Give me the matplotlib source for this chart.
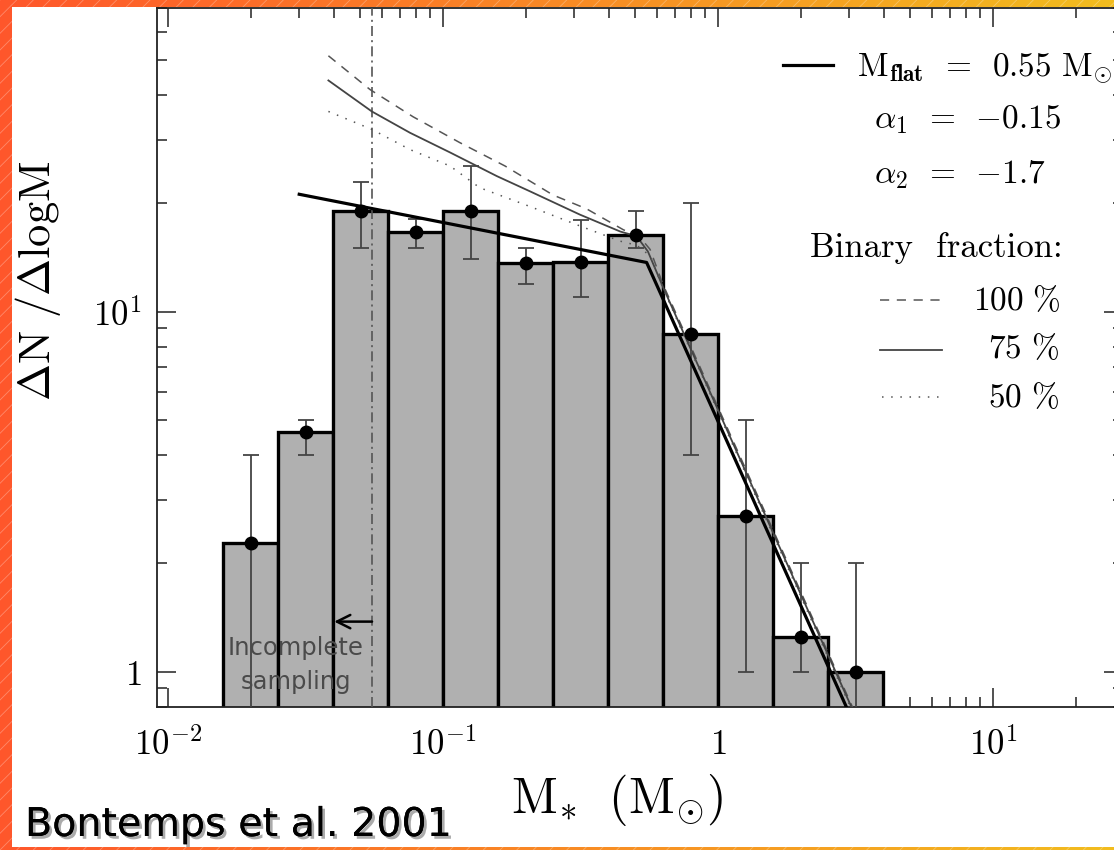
import numpy as np
import matplotlib
matplotlib.use("Agg")
import matplotlib.pyplot as plt
from matplotlib.lines import Line2D
from matplotlib.patches import Rectangle
from matplotlib.ticker import FixedLocator, FixedFormatter, LogLocator, NullFormatter
import matplotlib.patheffects as pe

plt.rcParams["mathtext.fontset"] = "cm"
plt.rcParams["hatch.linewidth"] = 0.6

# ---- histogram of the mass function (log10 bin edges, 0.2 dex bins) ----
log_bin_edges = [-1.8, -1.6, -1.4, -1.2, -1.0, -0.8, -0.6, -0.4, -0.2, 0.0, 0.2, 0.4, 0.6]
counts = [2.27, 4.64, 19.1, 16.6, 19.1, 13.65, 13.7, 16.3, 8.65, 2.70, 1.25, 1.0]
err_low = [0.5, 4.0, 15.0, 15.0, 14.0, 11.9, 11.0, 15.0, 4.0, 1.0, 1.0, 0.5]
err_high = [4.0, 5.0, 22.9, 18.1, 25.4, 15.0, 18.0, 19.0, 20.0, 5.0, 2.0, 2.0]

# ---- two-segment power-law fit ----
M_FLAT = 0.55
ALPHA_1 = -0.15
ALPHA_2 = -1.7
N_FLAT = 13.7
fit_mass = [0.03, 0.55, 3.3]

# ---- model mass functions for several binary fractions ----
bf100_mass = [0.0383, 0.0543, 0.0778, 0.115, 0.168, 0.251, 0.333, 0.452, 0.520, 0.566, 0.631, 1.41, 3.3]
bf100_vals = [51.4, 41.4, 34.8, 29.5, 25.4, 21.1, 19.3, 16.9, 16.1, 14.9, 11.9, 3.02, 0.71]
bf75_mass = [0.0383, 0.0551, 0.0759, 0.106, 0.157, 0.207, 0.315, 0.441, 0.506, 0.556, 0.631, 1.41, 3.3]
bf75_vals = [43.9, 36.0, 31.4, 27.7, 23.8, 21.6, 18.6, 16.7, 16.2, 14.7, 11.7, 2.97, 0.70]
bf50_mass = [0.0383, 0.0551, 0.0759, 0.106, 0.136, 0.207, 0.315, 0.441, 0.506, 0.566, 0.631, 1.41, 3.3]
bf50_vals = [36.0, 32.1, 28.2, 25.4, 22.1, 19.6, 17.3, 15.7, 15.3, 14.3, 11.6, 2.93, 0.69]

completeness_mass = 0.0552

x_tick_values = [0.01, 0.1, 1, 10]
x_tick_labels = [r"$10^{-2}$", r"$10^{-1}$", r"$1$", r"$10^{1}$"]
y_tick_values = [1, 10]
y_tick_labels = [r"$1$", r"$10^{1}$"]

W, H = 1114, 850


def fx(x):
    return x / W


def fy(y):
    return 1 - y / H


fig = plt.figure(figsize=(W / 100, H / 100), dpi=100)

# ---- slide-style frame: orange gradient with a white panel ----
bg = fig.add_axes([0, 0, 1, 1], zorder=-10)
grad = np.linspace(0, 1, 256)
c0 = np.array([1.0, 0.34, 0.17])
c1 = np.array([0.95, 0.74, 0.12])
img = c0[None, :] + (c1 - c0)[None, :] * grad[:, None]
bg.imshow(img[None, :, :], extent=[0, 1, 0, 1], aspect="auto")
bg.add_patch(Rectangle((0, 0), 1, 1, fill=False, hatch="//",
                       edgecolor=(1, 1, 1, 0.3), lw=0))
bg.add_patch(Rectangle((fx(12), fy(847)), 1.0, fy(7) - fy(847),
                       facecolor="white", edgecolor="none"))
bg.set_xlim(0, 1)
bg.set_ylim(0, 1)
bg.axis("off")

# ---- main axes ----
ax = fig.add_axes([fx(156.5), fy(706.5), fx(1123) - fx(156.5), fy(7.5) - fy(706.5)])
ax.set_facecolor("white")
ax.set_xscale("log")
ax.set_yscale("log")

edges = 10 ** np.array(log_bin_edges)
widths = np.diff(edges)
centers = np.sqrt(edges[:-1] * edges[1:])
counts_a = np.array(counts)
base = 0.5

ax.bar(edges[:-1], counts_a - base, width=widths, bottom=base, align="edge",
       color="#b0b0b0", edgecolor="black", linewidth=2.4, zorder=2)

ax.axvline(completeness_mass, color="#555555", lw=1.2,
           linestyle=(0, (6, 2.5, 1.2, 2.5)), zorder=3)

yerr = [counts_a - np.array(err_low), np.array(err_high) - counts_a]
ax.errorbar(centers, counts_a, yerr=yerr, fmt="none", ecolor="#444444",
            elinewidth=1.3, capsize=5.5, capthick=1.3, zorder=3)

ax.plot(bf100_mass, bf100_vals, color="#555555", lw=1.1,
        linestyle=(0, (6, 5)), zorder=4)
ax.plot(bf75_mass, bf75_vals, color="#444444", lw=1.3, zorder=4)
ax.plot(bf50_mass, bf50_vals, color="#555555", lw=1.1,
        linestyle=(0, (1, 5)), zorder=4)

fit_vals = [N_FLAT * (m / M_FLAT) ** (ALPHA_1 if m <= M_FLAT else ALPHA_2)
            for m in fit_mass]
ax.plot(fit_mass, fit_vals, color="black", lw=2.3, zorder=5)

ax.plot(centers, counts_a, "o", color="black", ms=9, zorder=6)

ax.text(0.0292, 1.16, "Incomplete", ha="center", va="center", fontsize=17.5,
        color="#4a4a4a", family="DejaVu Sans", zorder=7)
ax.text(0.0292, 0.935, "sampling", ha="center", va="center", fontsize=17.5,
        color="#4a4a4a", family="DejaVu Sans", zorder=7)
ax.annotate("", xy=(0.0402, 1.377), xytext=(completeness_mass, 1.377),
            arrowprops=dict(arrowstyle="->", lw=1.8, color="black",
                            mutation_scale=24, shrinkA=0, shrinkB=0),
            zorder=7)

ax.set_xlim(0.00908, 29.7)
ax.set_ylim(0.80, 70)

ax.xaxis.set_major_locator(FixedLocator(x_tick_values))
ax.xaxis.set_major_formatter(FixedFormatter(x_tick_labels))
ax.yaxis.set_major_locator(FixedLocator(y_tick_values))
ax.yaxis.set_major_formatter(FixedFormatter(y_tick_labels))
minor_subs = (2, 3, 4, 5, 6, 7, 8, 9)
ax.xaxis.set_minor_locator(LogLocator(base=10, subs=minor_subs))
ax.yaxis.set_minor_locator(LogLocator(base=10, subs=minor_subs))
ax.xaxis.set_minor_formatter(NullFormatter())
ax.yaxis.set_minor_formatter(NullFormatter())

ax.tick_params(which="both", direction="in", top=True, right=True,
               color="#222222", width=1.1, labelsize=25, labelcolor="black")
ax.tick_params(which="major", length=14)
ax.tick_params(which="minor", length=7.5)
ax.tick_params(axis="x", which="major", pad=15)
ax.tick_params(axis="y", which="major", pad=11)
for sp in ax.spines.values():
    sp.set_linewidth(1.3)
    sp.set_color("#222222")

# ---- axis titles ----
fig.text(fx(38), fy(281), r"$\Delta\mathrm{N}\ /\Delta\mathrm{logM}$",
         rotation=90, ha="center", va="center", fontsize=32)
fig.text(fx(617), fy(813), r"$\mathrm{M}_{\ast}\ \ (\mathrm{M}_{\odot})$",
         ha="center", va="baseline", fontsize=36)

# ---- key ----
LEG_FS = 24
fig.add_artist(Line2D([fx(783), fx(833)], [fy(65), fy(65)], color="black", lw=2.3))
fig.text(fx(857), fy(76), r"$\mathrm{M}_{\mathbf{flat}}\ \,=\ \,0.55\ \mathrm{M}_{\odot}$",
         ha="left", va="baseline", fontsize=LEG_FS)
fig.text(fx(874), fy(128), r"$\alpha_1\ \,=\ \,{-}0.15$", ha="left", va="baseline",
         fontsize=LEG_FS)
fig.text(fx(874), fy(183), r"$\alpha_2\ \,=\ \,{-}1.7$", ha="left", va="baseline",
         fontsize=LEG_FS)
fig.text(fx(810), fy(257), "Binary  fraction:", ha="left",
         va="baseline", fontsize=LEG_FS + 1, family="cmr10")

fig.add_artist(Line2D([fx(880), fx(947)], [fy(300), fy(300)], color="#555555",
                      lw=1.1, linestyle=(0, (6, 5))))
fig.add_artist(Line2D([fx(880), fx(942)], [fy(350), fy(350)], color="#444444",
                      lw=1.3))
fig.add_artist(Line2D([fx(882), fx(945)], [fy(397), fy(397)], color="#555555",
                      lw=1.1, linestyle=(0, (1, 5))))
fig.text(fx(1061), fy(310), r"$100\ \%$", ha="right", va="baseline", fontsize=LEG_FS)
fig.text(fx(1059), fy(358), r"$75\ \%$", ha="right", va="baseline", fontsize=LEG_FS)
fig.text(fx(1059), fy(407), r"$50\ \%$", ha="right", va="baseline", fontsize=LEG_FS)

# ---- citation ----
fig.text(fx(25), fy(836), "Bontemps et al. 2001", ha="left", va="baseline",
         fontsize=28.5, family="DejaVu Sans", color="black",
         path_effects=[pe.withSimplePatchShadow(offset=(2, -2),
                                                shadow_rgbFace="#888888",
                                                alpha=0.7),
                       pe.Normal()])

fig.savefig("out.png", dpi=100)
